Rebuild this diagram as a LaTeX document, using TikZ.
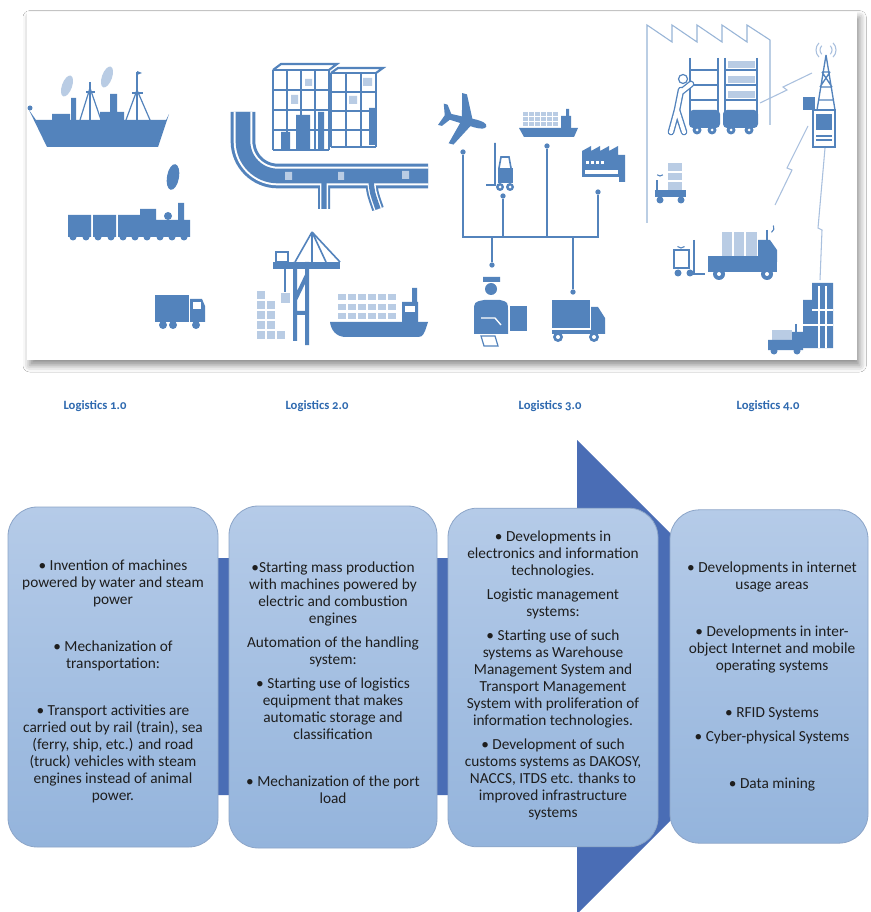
\documentclass[tikz,border=0pt]{standalone}
\usepackage{fontspec}
\setmainfont{Carlito}
\newfontfamily\labelfont[Numbers=OldStyle]{Carlito}
\usetikzlibrary{shadows.blur}

\definecolor{icoblue}{HTML}{5383BC}
\definecolor{icolight}{HTML}{B9CCE4}
\definecolor{radioblue}{HTML}{A9C0DE}
\definecolor{arrowblue}{HTML}{4A6DB5}
\definecolor{boxtop}{HTML}{B5CBE8}
\definecolor{boxbot}{HTML}{94B4DC}
\definecolor{boxedge}{HTML}{8CA5C8}
\definecolor{labelblue}{HTML}{2F6AB0}
\definecolor{txt}{HTML}{1E1E1E}

\tikzset{
  ico/.style={fill=icoblue},
  icolt/.style={fill=icolight},
  wire/.style={draw=icoblue, line width=0.9pt},
  radio/.style={draw=radioblue, line width=0.8pt},
  rack/.style={draw=icoblue, line width=1.6pt},
  dot/.style={circle, fill=icoblue, inner sep=1.4pt},
  stage/.style={draw=boxedge, line width=0.6pt, rounded corners=22pt, top color=boxtop, bottom color=boxbot},
  stagetext/.style={align=center, text=txt, inner sep=0pt, font=\fontsize{11.5}{12.75}\selectfont},
  stagelabel/.style={text=labelblue, font=\labelfont\bfseries\fontsize{9.5}{11}\selectfont},
}

\begin{document}
\begin{tikzpicture}[x=0.75pt, y=-0.75pt]
\useasboundingbox (0,0) rectangle (870,912);
\fill[white] (0,0) rectangle (870,912);

% panel with the four logistics scenes
\fill[white, blur shadow={shadow xshift=2pt, shadow yshift=-4pt, shadow blur radius=5pt, shadow opacity=45}] (27,12) rectangle (857,360);

% 1.0 : steam ship
\fill[icolt, rotate around={-20:(67,86)}] (67,86) ellipse (5 and 11);
\fill[icolt, rotate around={-20:(107,77)}] (107,77) ellipse (5 and 11);
\fill[ico] (29,110) -- (36,120) -- (166,120) -- (169,114) -- (158,147) -- (47,147) -- cycle;
\fill[ico] (52,114) rectangle (70,121) (100,112) rectangle (124,121) (71,98) rectangle (76,121) (110,94) rectangle (117,113);
\fill[ico] (30,108) circle (2.5);
\draw[icoblue, line width=1.5pt] (90,82) -- (90,120) (137,72) -- (137,120) (86,92) -- (95,92) (132,93) -- (143,93);
\draw[icoblue, line width=0.9pt] (90,88) -- (80,120) (90,88) -- (101,120) (137,90) -- (126,120) (137,90) -- (150,120);
\fill[ico] (137,71) -- (142,73) -- (137,75) -- cycle;

% 1.0 : steam train
\fill[ico, rotate around={-10:(173,177)}] (173,177) ellipse (6 and 13);
\fill[ico] (68,215) rectangle (91,237) (93,215) rectangle (116,237) (118,215) rectangle (140,237);
\fill[ico] (140,220) rectangle (190,237) (140,209) rectangle (156,237) (178,203) rectangle (184,221);
\fill[ico] (168,216) circle (4);
\foreach \x in {73,86,98,111,123,135,147,160,172,184}
  \fill[ico] (\x,237) circle (3.5);

% 1.0 : truck
\fill[ico] (155,295) rectangle (189,322);
\fill[ico] (190,299) -- (202,299) -- (205,306) -- (205,322) -- (190,322) -- cycle;
\fill[white] (193,302) rectangle (201,309);
\foreach \x in {163,173,196}
  \fill[ico] (\x,325) circle (4);

% 2.0 : high-bay racks
\foreach \x in {273,287,301,315,329} \draw[rack] (\x,70) -- (\x,150);
\foreach \y in {70,90,110,130,150} \draw[rack] (273,\y) -- (329,\y);
\draw[rack] (273,70) -- (281,64) -- (337,64) -- (329,70);
\foreach \x in {331,346,361,376} \draw[rack] (\x,73) -- (\x,147);
\foreach \y in {73,92,111,130,147} \draw[rack] (331,\y) -- (376,\y);
\draw[rack] (331,73) -- (338,68) -- (383,68) -- (376,73);
\fill[ico] (296,115) rectangle (310,150) (318,112) rectangle (324,150) (369,108) rectangle (376,145) (281,132) rectangle (290,150);
\fill[icolight] (291,95) rectangle (298,104) (305,79) rectangle (312,86) (349,96) rectangle (357,104) (363,78) rectangle (372,86);

% 2.0 : conveyor track
\draw[icoblue, line width=9pt] (324,176) -- (324,209) (371,176) .. controls (372,192) .. (378,209);
\draw[icoblue, line width=18.5pt, rounded corners=26pt] (243,112) |- (428,176);
\draw[white, line width=6pt] (324,176) -- (324,209) (371,176) .. controls (372,192) .. (378,209);
\draw[white, line width=14pt, rounded corners=26pt] (243,112) |- (428,176);
\draw[icoblue, line width=4pt] (324,180) -- (324,209) (371,180) .. controls (372,192) .. (378,209);
\draw[icoblue, line width=11pt, rounded corners=26pt] (243,112) |- (428,176);
\fill[icolight] (285,172) rectangle (292,180) (338,172) rectangle (344,180) (402,171) rectangle (409,179);

% 2.0 : quay crane, containers and ship
\draw[icoblue, line width=1.2pt] (312,232) -- (295,262) (312,232) -- (340,262) (312,232) -- (312,262) (312,232) -- (326,262);
\fill[ico] (273,262) rectangle (340,269);
\draw[icoblue, line width=1.2pt] (276,252) rectangle (288,262);
\draw[icoblue, line width=3pt] (295,262) -- (295,341) (307,262) -- (307,345) (295,313) -- (307,313) (295,300) -- (307,275);
\draw[icoblue, line width=0.8pt] (285,269) -- (285,292);
\fill[icolt] (281,293) rectangle (290,303);
\foreach \c/\n in {0/5,1/4,2/1}
  \foreach \r in {1,...,\n}
    \fill[icolt] ({257+10*\c},{341-10*\r}) rectangle ({265+10*\c},{349-10*\r});
\fill[ico] (330,322) -- (428,322) -- (425,331) .. controls (422,337) .. (414,337) -- (346,337) .. controls (336,337) and (331,330) .. (330,322) -- cycle;
\fill[ico] (402,302) rectangle (418,323) (412,288) rectangle (417,302);
\fill[white] (405,306) rectangle (415,312);
\foreach \y in {294,304,313}
  \foreach \x in {338,348,...,388}
    \fill[icolt] (\x,\y) rectangle ({\x+8},{\y+6});

% 3.0 : plane, ship, forklift, factory
\begin{scope}[shift={(466,121)}, rotate=-15]
\fill[ico] (21,0) .. controls (21,-3) and (16,-4) .. (10,-4) -- (-16,-3) -- (-22,-11) -- (-26,-11) -- (-22,0) -- (-26,11) -- (-22,11) -- (-16,3) -- (10,4) .. controls (16,4) and (21,3) .. (21,0) -- cycle;
\fill[ico] (6,-3) -- (-6,-26) -- (-11,-26) -- (-5,-3) -- cycle (6,3) -- (-6,26) -- (-11,26) -- (-5,3) -- cycle;
\end{scope}
\fill[ico] (519,128) -- (578,128) -- (574,137) -- (524,137) -- cycle;
\fill[ico] (561,116) rectangle (571,128) (566,109) rectangle (569,116);
\foreach \y in {112,117,122}
  \foreach \x in {523,529,...,553}
    \fill[icolt] (\x,\y) rectangle ({\x+5},{\y+4});
\draw[icoblue, line width=1.2pt] (495,143) -- (495,185) -- (486,185) (499,168) -- (501,157) -- (509,157) -- (511,168);
\fill[ico] (498,168) rectangle (513,183);
\fill[ico] (500,187) circle (4) (510,187) circle (4);
\fill[white] (500,187) circle (1.5) (510,187) circle (1.5);
\fill[ico] (582,157) -- (582,151) -- (591,146) -- (591,151) -- (600,146) -- (600,151) -- (609,146) -- (609,151) -- (618,146) -- (618,155) -- (625,155) -- (625,182) -- (619,182) -- (619,177) -- (582,177) -- cycle;
\foreach \x in {586,591,596,601}
  \fill[white] (\x,161) rectangle ({\x+3},{164});
\fill[white] (585,170) rectangle (618,174);

% 3.0 : links
\node[dot] (plane) at (463,152) {};
\node[dot] (lift) at (503,196) {};
\node[dot] (ship) at (547,146) {};
\node[dot] (plant) at (598,192) {};
\node[dot] (desk) at (492,265) {};
\node[dot] (van) at (573,292) {};
\coordinate (bus) at (530,237);
\draw[wire] (plane) |- (bus) -| (plant);
\draw[wire] (lift) -- (lift |- bus);
\draw[wire] (ship) -- (ship |- bus);
\draw[wire] (desk) -- (desk |- bus);
\draw[wire] (van) -- (van |- bus);

% 3.0 : clerk and van
\fill[ico] (483,277) rectangle (500,282) (491,289) circle (6);
\fill[ico] (474,334) -- (474,312) .. controls (474,302) .. (484,300) -- (500,300) .. controls (508,302) .. (508,312) -- (508,334) -- cycle;
\draw[white, line width=1pt] (481,318) -- (495,318) -- (501,325);
\fill[ico] (510,306) rectangle (527,331);
\draw[icoblue, line width=0.9pt] (481,336) -- (495,336) -- (498,346) -- (484,346) -- cycle;
\fill[ico] (552,300) rectangle (590,328);
\fill[ico] (591,307) -- (598,307) -- (605,318) -- (605,334) -- (591,334) -- cycle;
\fill[ico] (552,330) rectangle (605,334);
\fill[ico] (558,337) circle (5) (594,337) circle (5);
\fill[white] (558,337) circle (2) (594,337) circle (2);

% 4.0 : smart factory
\draw[radio, draw=icoblue!60] (647,223) -- (647,25) -- (672,42) -- (672,25) -- (697,42) -- (697,25) -- (722,42) -- (722,25) -- (747,42) -- (747,25) -- (770,40) -- (770,125);
\draw[rack, line width=1.8pt] (690,58) -- (690,118) (718,58) -- (718,118) (725,58) -- (725,118) (757,58) -- (757,118);
\foreach \y in {70,85,100}
  \draw[rack, line width=1.8pt] (690,\y) -- (718,\y) (725,\y) -- (757,\y);
\foreach \y in {61,76,91}
  \fill[icolt] (728,\y) rectangle (755,{\y+7});
\fill[ico, rounded corners=3pt] (689,110) rectangle (720,128) (723,110) rectangle (758,128);
\foreach \x in {697,712,731,749}
  { \fill[ico] (\x,130) circle (4.5); \fill[white] (\x,130) circle (1.5); }
\draw[icoblue, line width=5pt, line cap=round] (681,90) -- (677,110) -- (671,132) (677,110) -- (684,132) (681,92) -- (691,84);
\draw[white, line width=3pt, line cap=round] (681,90) -- (677,110) -- (671,132) (677,110) -- (684,132) (681,92) -- (691,84);
\filldraw[fill=white, draw=icoblue, line width=0.9pt] (683,79) circle (4.5);

% 4.0 : tower and terminal
\draw[icoblue, line width=1pt] (826,55) -- (817,110) (826,55) -- (835,110) (822,72) -- (830,72) (820,87) -- (832,87) (818,100) -- (834,100) (822,72) -- (832,87) (830,72) -- (820,87);
\draw[radio] (826,50) ++(135:6) arc[start angle=135, end angle=225, radius=6];
\draw[radio] (826,50) ++(45:6) arc[start angle=45, end angle=-45, radius=6];
\draw[radio] (826,50) ++(135:10) arc[start angle=135, end angle=225, radius=10];
\draw[radio] (826,50) ++(45:10) arc[start angle=45, end angle=-45, radius=10];
\fill[ico] (803,97) rectangle (815,110);
\filldraw[fill=white, draw=icoblue, line width=1pt] (813,110) rectangle (835,147);
\fill[ico] (816,114) rectangle (832,130);
\draw[icoblue, line width=0.8pt] (816,136) -- (832,136) (816,140) -- (832,140);

% 4.0 : radio links
\draw[radio] (760,103) -- (787,90) -- (783,87) -- (812,73);
\draw[radio] (775,205) -- (792,170) -- (787,168) -- (808,126);
\draw[radio] (820,280) -- (822,230) -- (818,228) -- (825,148);

% 4.0 : tugger, forklift, truck
\fill[icolt] (668,163) rectangle (682,191);
\draw[white, line width=0.8pt] (668,172) -- (682,172) (668,181) -- (682,181);
\fill[ico] (655,190) rectangle (686,197);
\draw[icoblue, line width=1.5pt] (657,197) -- (657,180);
\fill[ico] (660,200) circle (3.5) (681,200) circle (3.5);
\draw[radio, draw=icoblue] (660,172) ++(45:4) arc[start angle=45, end angle=135, radius=4];
\draw[icoblue, line width=1.2pt, fill=white] (674,250) rectangle (689,268);
\draw[icoblue, line width=1.2pt] (694,240) -- (694,274) -- (705,274);
\fill[ico] (678,273) circle (3.5) (690,273) circle (3.5);
\draw[radio, draw=icoblue] (681,243) ++(45:5) arc[start angle=45, end angle=135, radius=5];
\fill[icolt] (722,232) rectangle (757,257);
\draw[white, line width=1pt] (733,232) -- (733,257) (745,232) -- (745,257);
\fill[ico] (758,240) -- (770,240) -- (777,250) -- (777,262) -- (758,262) -- cycle;
\fill[ico] (708,256) rectangle (777,272);
\draw[icoblue, line width=1.2pt] (767,230) -- (767,240);
\draw[radio, draw=icoblue] (769,228) ++(60:5) arc[start angle=60, end angle=-30, radius=5];
\fill[ico] (719,274) circle (6) (767,274) circle (6);
\fill[white] (719,274) circle (2) (767,274) circle (2);

% 4.0 : building and small truck
\fill[ico] (812,283) rectangle (833,348) (803,300) rectangle (812,348);
\draw[white, line width=1pt] (819,286) -- (819,348) (826,286) -- (826,348) (812,310) -- (833,310) (803,325) -- (833,325);
\fill[icolt] (772,330) rectangle (792,342);
\fill[ico] (792,332) rectangle (803,342) (768,340) rectangle (803,350);
\draw[icoblue, line width=1pt] (796,324) -- (796,332);
\fill[ico] (774,351) circle (3.5) (797,351) circle (3.5);

% stage labels
\node[stagelabel] (l1) at (95,406) {Logistics 1.0};
\node[stagelabel] (l2) at (317,406) {Logistics 2.0};
\node[stagelabel] (l3) at (550,406) {Logistics 3.0};
\node[stagelabel] (l4) at (768,406) {Logistics 4.0};

% big arrow behind the stages
\fill[arrowblue] (60,558) -- (577,558) -- (577,440) -- (814,677) -- (577,914) -- (577,795) -- (60,795) -- cycle;

\node[stage, minimum width=157.5pt, minimum height=255pt] (s1) at (113,677) {};
\node[stage, minimum width=156pt, minimum height=256.5pt] (s2) at (333,677) {};
\node[stage, minimum width=157.5pt, minimum height=254pt] (s3) at (553,677.5) {};
\node[stage, minimum width=148.5pt, minimum height=250pt] (s4) at (769,676.5) {};

\node[stagetext] (t1) at (113,681) {%
• Invention of machines\\
powered by water and steam\\
power\\[22.5pt]
• Mechanization of\\
transportation:\\[22.5pt]
• Transport activities are\\
carried out by rail (train), sea\\
(ferry, ship, etc.) and road\\
(truck) vehicles with steam\\
engines instead of animal\\
power.};

\node[stagetext] (t2) at (333,683) {%
•Starting mass production\\
with machines powered by\\
electric and combustion\\
engines\\[5.25pt]
Automation of the handling\\
system:\\[5.25pt]
• Starting use of logistics\\
equipment that makes\\
automatic storage and\\
classification\\[22.5pt]
• Mechanization of the port\\
load};

\node[stagetext] (t3) at (553,675) {%
• Developments in\\
electronics and information\\
technologies.\\[5.25pt]
Logistic management\\
systems:\\[5.25pt]
• Starting use of such\\
systems as Warehouse\\
Management System and\\
Transport Management\\
System with proliferation of\\
information technologies.\\[5.25pt]
• Development of such\\
customs systems as DAKOSY,\\
NACCS, ITDS etc. thanks to\\
improved infrastructure\\
systems};

\node[stagetext] (t4) at (772,676) {%
• Developments in internet\\
usage areas\\[22.5pt]
• Developments in inter-\\
object Internet and mobile\\
operating systems\\[22.5pt]
• RFID Systems\\[5.25pt]
• Cyber-physical Systems\\[22.5pt]
• Data mining};
\end{tikzpicture}
\end{document}
